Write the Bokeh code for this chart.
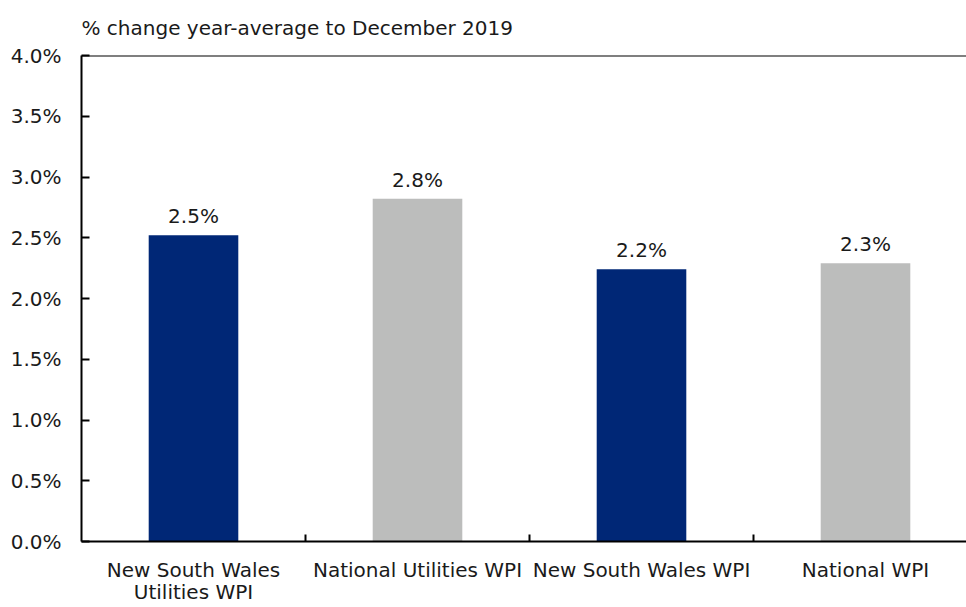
import numpy as np
from bokeh.plotting import figure
from bokeh.models import Range1d, FixedTicker, Span, ColumnDataSource, Title
from bokeh.core.properties import value
from bokeh.embed import file_html
from bokeh.resources import INLINE

categories = ["New South Wales\nUtilities WPI", "National Utilities WPI",
              "New South Wales WPI", "National WPI"]
values = [2.52, 2.82, 2.24, 2.29]
colors = ["#002776", "#bcbdbc", "#002776", "#bcbdbc"]
y_ticks = [0.0, 0.5, 1.0, 1.5, 2.0, 2.5, 3.0, 3.5, 4.0]
title_text = "% change year-average to December 2019"

FONT = "DejaVu Sans"
FS = "20px"
TXT = "#1a1a1a"

x = np.arange(len(categories)) + 0.5
labels = [f"{v:.1f}%" for v in values]
src = ColumnDataSource(dict(x=x, top=values, color=colors, label=labels))

p = figure(width=966, height=607, output_backend="svg", toolbar_location=None,
           x_range=Range1d(0, 885 / 224), y_range=Range1d(0, 4),
           min_border_left=81, min_border_right=0, min_border_top=55,
           min_border_bottom=63)
p.title = Title(text=title_text, align="left", vertical_align="top",
                text_font=FONT, text_font_size=FS,
                text_font_style="normal", text_color=TXT, offset=0, standoff=28)
p.outline_line_color = None
p.grid.grid_line_color = None
p.background_fill_color = "white"
p.border_fill_color = "white"

p.vbar(x="x", top="top", width=0.4, bottom=0, fill_color="color",
       line_color=None, source=src)
p.text(x="x", y="top", text="label", source=src, text_align="center",
       text_baseline="bottom", y_offset=-7, text_font=value(FONT),
       text_font_size=FS, text_color=TXT)

# x axis: labels at centers, ticks at category boundaries
xa = p.xaxis[0]
xa.ticker = FixedTicker(ticks=list(x), minor_ticks=list(np.arange(1, len(categories))))
xa.major_label_overrides = {float(xi): c for xi, c in zip(x, categories)}
xa.major_tick_line_color = None
xa.minor_tick_in = 7
xa.minor_tick_out = 0
xa.minor_tick_line_color = "black"
xa.minor_tick_line_width = 2
xa.axis_line_width = 2
xa.axis_line_color = "black"
xa.major_label_text_font = FONT
xa.major_label_text_font_size = FS
xa.major_label_text_color = TXT
xa.major_label_text_line_height = 0.95
xa.major_label_standoff = 10

ya = p.yaxis[0]
ya.ticker = FixedTicker(ticks=y_ticks)
ya.major_label_overrides = {t: f"{t:.1f}%" for t in y_ticks}
ya.major_tick_in = 8
ya.major_tick_out = 0
ya.major_tick_line_width = 2
ya.minor_tick_line_color = None
ya.axis_line_width = 2
ya.axis_line_color = "black"
ya.major_label_text_font = FONT
ya.major_label_text_font_size = FS
ya.major_label_text_color = TXT
ya.major_label_standoff = 20

p.add_layout(Span(location=4, dimension="width", line_color="black", line_width=2))

open("out.html", "w").write(file_html(p, INLINE))
